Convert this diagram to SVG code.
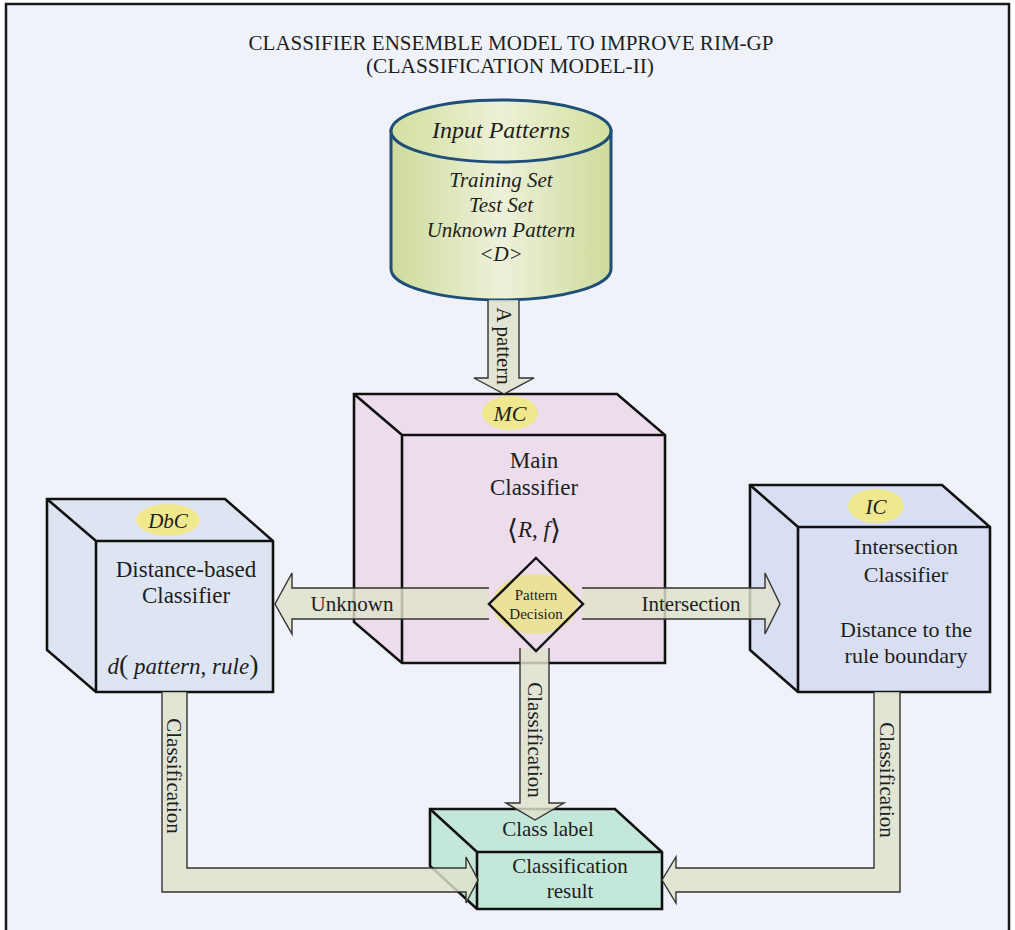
<svg xmlns="http://www.w3.org/2000/svg" width="1015" height="930" viewBox="0 0 1015 930">
<defs>
<linearGradient id="cyl" x1="0" y1="0" x2="1" y2="0">
<stop offset="0" stop-color="#cedb9b"/>
<stop offset="0.5" stop-color="#edf1da"/>
<stop offset="1" stop-color="#cedb9b"/>
</linearGradient>
<linearGradient id="cyltop" x1="0" y1="0" x2="1" y2="0">
<stop offset="0" stop-color="#d3df9f"/>
<stop offset="0.5" stop-color="#ecf1d6"/>
<stop offset="1" stop-color="#d3df9f"/>
</linearGradient>
<style>
text{font-family:"Liberation Serif","DejaVu Serif",serif;fill:#1e1e1e}
.t{font-size:21px}
.c{text-anchor:middle}
.it{font-style:italic}
.box{stroke:#111;stroke-width:2.6;stroke-linejoin:miter}
.ln{fill:none;stroke:#111;stroke-width:2.6}
.arr{fill:#dfe2cc;fill-opacity:0.82;stroke:#333;stroke-width:1.4}
.tag{fill:#efe88f}
</style>
</defs>
<rect x="0" y="0" width="1015" height="930" fill="#ffffff"/>
<rect x="6" y="4" width="1003" height="940" fill="#eff3f9" stroke="#1a1a1a" stroke-width="2.5"/>
<g id="title">
<text class="c" x="511" y="50" font-size="21" textLength="525" lengthAdjust="spacingAndGlyphs">CLASSIFIER ENSEMBLE MODEL TO IMPROVE RIM-GP</text>
<text class="c" x="510" y="73" font-size="21" textLength="288" lengthAdjust="spacingAndGlyphs">(CLASSIFICATION MODEL-II)</text>
</g>
<g id="input-patterns">
<path d="M391,131 V269 A110,31 0 0 0 611,269 V131 Z" fill="url(#cyl)" stroke="#1f4e79" stroke-width="3"/>
<ellipse cx="501" cy="131" rx="110" ry="31" fill="url(#cyltop)" stroke="#1f4e79" stroke-width="3"/>
<text class="c it" x="501" y="138" font-size="24">Input Patterns</text>
<text class="c it" x="501" y="187" font-size="21">Training Set</text>
<text class="c it" x="501" y="212" font-size="21">Test Set</text>
<text class="c it" x="501" y="237" font-size="21">Unknown Pattern</text>
<text class="c it" x="501" y="261" font-size="21">&lt;D&gt;</text>
</g>
<g id="mc">
<path class="box" d="M354,394 H617 L665,435 V663 H402 L354,622 Z" fill="#ecdcec"/>
<path class="ln" d="M354,394 L402,435 H665 M402,435 V663"/>
<ellipse class="tag" cx="510" cy="413" rx="28" ry="17"/>
<text class="c it" x="510" y="421" font-size="22">MC</text>
<text class="c" x="534" y="468" font-size="23">Main</text>
<text class="c" x="534" y="495" font-size="23">Classifier</text>
<text class="c" x="534" y="537" font-size="23"><tspan font-size="28" dy="2">⟨</tspan><tspan font-style="italic" dy="-2">R</tspan>, <tspan font-style="italic">f</tspan><tspan font-size="28" dy="2">⟩</tspan></text>
</g>
<g id="dbc">
<path class="box" d="M47,499 H225 L273,541 V692 H96 L47,650 Z" fill="#dde5f2"/>
<path class="ln" d="M47,499 L96,541 H273 M96,541 V692"/>
<ellipse class="tag" cx="168" cy="520" rx="32" ry="16"/>
<text class="c it" x="168" y="528" font-size="21">DbC</text>
<text class="c" x="186" y="577" font-size="23">Distance-based</text>
<text class="c" x="186" y="603" font-size="23">Classifier</text>
<text class="c" x="183" y="674" font-size="23"><tspan font-style="italic">d</tspan><tspan font-size="28">(</tspan> <tspan font-style="italic">pattern</tspan>, <tspan font-style="italic">rule</tspan><tspan font-size="28">)</tspan></text>
</g>
<g id="ic">
<path class="box" d="M750,485 H942 L990,527 V692 H798 L750,650 Z" fill="#d9dff2"/>
<path class="ln" d="M750,485 L798,527 H990 M798,527 V692"/>
<ellipse class="tag" cx="876" cy="506" rx="28" ry="17"/>
<text class="c it" x="876" y="514" font-size="21">IC</text>
<text class="c" x="906" y="554" font-size="22">Intersection</text>
<text class="c" x="906" y="582" font-size="22">Classifier</text>
<text class="c" x="906" y="637" font-size="22">Distance to the</text>
<text class="c" x="906" y="663" font-size="22">rule boundary</text>
</g>
<g id="result">
<path class="box" d="M430,809 H615 L662,852 V909 H477 L430,866 Z" fill="#c3e8d9"/>
<path class="ln" d="M430,809 L477,852 H662 M477,852 V909"/>
<text class="c" x="548" y="836" font-size="21">Class label</text>
<text class="c" x="570" y="873" font-size="21">Classification</text>
<text class="c" x="570" y="898" font-size="21">result</text>
</g>
<g id="connectors">
<path class="arr" d="M488,300 V378 H474 L504,394 L534,378 H519 V300"/>
<text class="t" transform="translate(497,346) rotate(90)" text-anchor="middle">A pattern</text>
<path class="arr" d="M489,588 H292 V573 L275,604 L292,634 V619 H489"/>
<text class="c" x="352" y="611" font-size="21">Unknown</text>
<path class="arr" d="M582,588 H765 V573 L780,604 L765,634 V619 H582"/>
<text class="c" x="691" y="611" font-size="21">Intersection</text>
<path class="arr" d="M520,648 V803 H506 L535,820 L564,803 H549 V648"/>
<text class="t" transform="translate(528,740) rotate(90)" text-anchor="middle">Classification</text>
<path class="arr" d="M187,692 V868 H466 V857 L478,880 L466,903 V892 H162 V692"/>
<text class="t" transform="translate(167,776) rotate(90)" text-anchor="middle">Classification</text>
<path class="arr" d="M874,692 V868 H676 V857 L662,880 L676,903 V892 H900 V692"/>
<text class="t" transform="translate(880,780) rotate(90)" text-anchor="middle">Classification</text>
</g>
<g id="pattern-decision">
<ellipse cx="535" cy="604" rx="43" ry="30" fill="#ebe37e" fill-opacity="0.75"/>
<path d="M536,558 L583,604 L536,651 L489,604 Z" fill="none" stroke="#111" stroke-width="2.4"/>
<text class="c" x="536" y="600" font-size="15">Pattern</text>
<text class="c" x="536" y="619" font-size="15">Decision</text>
</g>
</svg>
